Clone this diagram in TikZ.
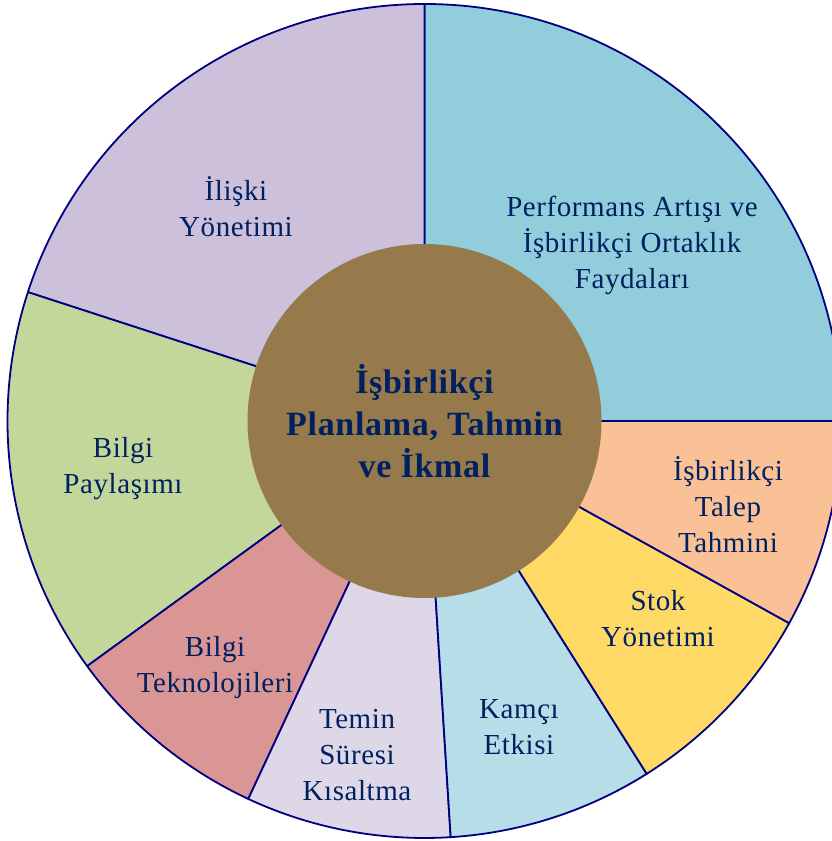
\documentclass[tikz,border=0pt]{standalone}
\usepackage{fontspec}
\setmainfont{Liberation Serif}[LetterSpace=2]
\definecolor{edge}{RGB}{0,0,128}
\definecolor{ink}{RGB}{0,32,96}
\definecolor{cPerf}{RGB}{146,205,220}
\definecolor{cIliski}{RGB}{204,192,218}
\definecolor{cPay}{RGB}{196,215,155}
\definecolor{cTek}{RGB}{218,150,148}
\definecolor{cTemin}{RGB}{221,215,232}
\definecolor{cKamci}{RGB}{183,222,232}
\definecolor{cStok}{RGB}{254,217,102}
\definecolor{cTalep}{RGB}{250,192,150}
\definecolor{cHub}{RGB}{150,122,76}
\begin{document}
\begin{tikzpicture}[x=1pt,y=1pt,
  sector/.style={fill=#1,draw=edge,line width=1.8pt,line join=round},
  lbl/.style={text=ink,align=center,font=\fontsize{29}{36}\selectfont,inner sep=0pt},
  hublbl/.style={text=ink,align=center,font=\fontsize{34}{42}\selectfont\bfseries,inner sep=0pt}]
\useasboundingbox (0,0) rectangle (832,841);
\coordinate (O) at (424.5,420);
\def\R{417}
% ring of sectors: start angle, end angle, colour
\foreach \a/\b/\c in {0/90/cPerf, 90/162/cIliski, 162/216/cPay, 216/245/cTek,
                      245/273.6/cTemin, 273.6/302.2/cKamci, 302.2/331/cStok, 331/360/cTalep}{
  \draw[sector=\c] (O) -- ++(\a:\R) arc[start angle=\a, end angle=\b, radius=\R] -- cycle;
}
% central disc
\fill[cHub] (O) circle[radius=177];
\node[hublbl] (hub) at (424.5,420) {İşbirlikçi\\Planlama, Tahmin\\ve İkmal};
% sector labels
\node[lbl] (perf)   at (632,596) {Performans Artışı ve\\İşbirlikçi Ortaklık\\Faydaları};
\node[lbl] (iliski) at (236,634) {İlişki\\Yönetimi};
\node[lbl] (pay)    at (123,372) {Bilgi\\Paylaşımı};
\node[lbl] (tek)    at (215,173) {Bilgi\\Teknolojileri};
\node[lbl] (temin)  at (357,86)  {Temin\\Süresi\\Kısaltma};
\node[lbl] (kamci)  at (519,114) {Kamçı\\Etkisi};
\node[lbl] (stok)   at (658,222) {Stok\\Yönetimi};
\node[lbl] (talep)  at (728,336) {İşbirlikçi\\Talep\\Tahmini};
\end{tikzpicture}
\end{document}
